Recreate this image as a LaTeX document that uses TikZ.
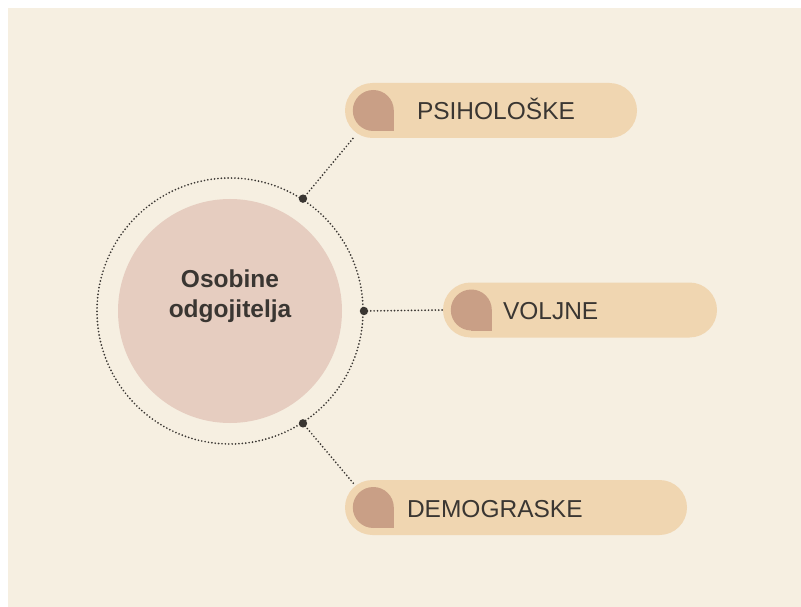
\documentclass[tikz,border=0pt]{standalone}
\usepackage{fontspec}
\setmainfont{Liberation Sans}
\usepackage{tikz}
\usetikzlibrary{calc}

\definecolor{paper}{HTML}{F6EFE1}
\definecolor{pillfill}{HTML}{F0D6B1}
\definecolor{iconfill}{HTML}{C99F86}
\definecolor{corefill}{HTML}{E6CDC0}
\definecolor{ink}{HTML}{3A3632}

\tikzset{
    core/.style={circle, fill=corefill, minimum size=224, inner sep=0},
    ring/.style={circle, draw=ink, line width=1.9pt, dash pattern=on 0pt off 3.4pt, line cap=round, minimum size=266, inner sep=0},
    pill/.style={rectangle, fill=pillfill, rounded corners=27.5pt, minimum height=55, inner sep=0},
    lbl/.style={anchor=base west, inner sep=0, text=ink, font=\fontsize{24.5}{29}\selectfont},
    dotlink/.style={draw=ink, line width=1.9pt, dash pattern=on 0pt off 3.4pt, line cap=round},
    joint/.style={fill=ink},
}

\begin{document}
\begin{tikzpicture}[x=1pt,y=-1pt]
        \useasboundingbox (0,0) rectangle (801,607);
        \fill[white] (0,0) rectangle (801,607);
        \fill[paper] (8,8) rectangle (801,607);

        % centre
        \node[core] (core) at (230,311) {};
        \node[ring] (ring) at (230,311) {};
        \node[inner sep=0, align=center, text=ink, font=\fontsize{24.5}{29.5}\selectfont\bfseries] (title) at (230,296) {Osobine\\odgojitelja};

        % the three pills
        \node[pill, minimum width=292] (pill1) at (491,110.5) {};
        \node[pill, minimum width=274] (pill2) at (580,310) {};
        \node[pill, minimum width=342] (pill3) at (516,507.5) {};

        \foreach \p in {1,2,3} {
            \coordinate (icon\p) at ([xshift=28.5]pill\p.west);
            \fill[iconfill] (icon\p) circle (20.5);
            \fill[iconfill] (icon\p) rectangle ++(20.5,20.5);
        }

        \node[lbl] (lbl1) at ($(pill1.west)+(72,9.5)$) {PSIHOLOŠKE};
        \node[lbl] (lbl2) at ($(pill2.west)+(60,9.5)$) {VOLJNE};
        \node[lbl] (lbl3) at ($(pill3.west)+(62,9.5)$) {DEMOGRASKE};

        % connectors
        \coordinate (end1) at ($(pill1.south west)+(10,-2)$);
        \coordinate (end3) at ($(pill3.north west)+(9,4)$);
        \draw[dotlink] (ring.57) -- (end1);
        \draw[dotlink] (ring.east) -- (pill2.west);
        \draw[dotlink] (ring.-57) -- (end3);
        \foreach \a in {57,0,-57}
            \fill[joint] (ring.\a) circle (4.2);
    \end{tikzpicture}
\end{document}
